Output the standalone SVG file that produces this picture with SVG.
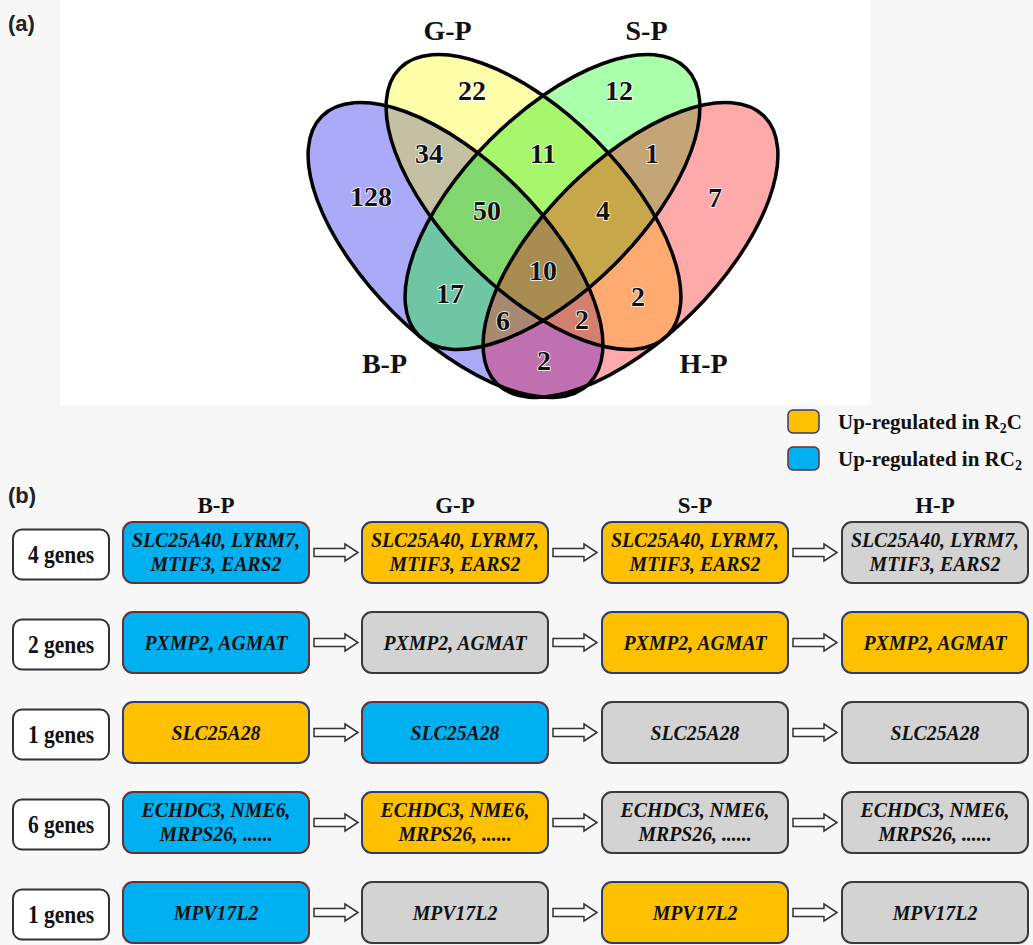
<svg xmlns="http://www.w3.org/2000/svg" xmlns:xlink="http://www.w3.org/1999/xlink" width="1033" height="945" viewBox="0 0 1033 945">
<style>
.vn{font-family:"Liberation Serif","Times New Roman",serif;font-weight:bold;font-size:28px;text-anchor:middle;fill:#111;stroke:#fff;stroke-width:1.5;paint-order:stroke}
.ol{fill:none;stroke:#000;stroke-width:3.5}
.hdr{font-family:"Liberation Serif","Times New Roman",serif;font-weight:bold;font-size:23px;text-anchor:middle;fill:#111}
.lbl{font-family:"Liberation Serif","Times New Roman",serif;font-weight:bold;font-size:25px;text-anchor:middle;fill:#111}
.gene{font-family:"Liberation Serif","Times New Roman",serif;font-weight:bold;font-style:italic;font-size:22px;text-anchor:middle;fill:#111}
.leg{font-family:"Liberation Serif","Times New Roman",serif;font-weight:bold;font-size:21px;fill:#111}
.bl{fill:#00b0f0;stroke:#6b2f2f;stroke-width:2}
.or{fill:#ffc000;stroke:#2b3a7a;stroke-width:2}
.gr{fill:#d3d3d3;stroke:#3a3a3a;stroke-width:2}
.lb{fill:#fff;stroke:#333;stroke-width:2}
.arr{fill:#fff;stroke:#333;stroke-width:1.5}
.pl{font-family:"Liberation Sans",Arial,sans-serif;font-weight:bold;font-size:22px;fill:#222}
</style>
<defs>
<ellipse id="eB" cx="455.5" cy="250" rx="189" ry="88" transform="rotate(45 455.5 250)"/>
<ellipse id="eG" cx="533.5" cy="202" rx="189" ry="88" transform="rotate(45 533.5 202)"/>
<ellipse id="eS" cx="552.5" cy="202" rx="189" ry="88" transform="rotate(-45 552.5 202)"/>
<ellipse id="eH" cx="630.5" cy="250" rx="189" ry="88" transform="rotate(-45 630.5 250)"/>
<clipPath id="cB"><use xlink:href="#eB"/></clipPath>
<clipPath id="cG"><use xlink:href="#eG"/></clipPath>
<clipPath id="cS"><use xlink:href="#eS"/></clipPath>
<clipPath id="cH"><use xlink:href="#eH"/></clipPath>
<path id="arrow" d="M0,-4 H31 V-8.5 L44,0 L31,8.5 V4 H0 Z"/>
</defs>
<rect x="0" y="0" width="1033" height="945" fill="#f7f7f7"/>
<rect x="60" y="0" width="810" height="405" fill="#ffffff"/>
<text class="pl" x="8" y="31">(a)</text>
<g id="venn">
<g id="venn-fills">
<use xlink:href="#eB" fill="#aaaaf8"/>
<use xlink:href="#eG" fill="#ffffaa"/>
<use xlink:href="#eS" fill="#aaffaa"/>
<use xlink:href="#eH" fill="#ffaaaa"/>
<g clip-path="url(#cB)"><use xlink:href="#eG" fill="#c4c0a2"/></g>
<g clip-path="url(#cB)"><use xlink:href="#eS" fill="#6ec6a4"/></g>
<g clip-path="url(#cB)"><use xlink:href="#eH" fill="#c070b0"/></g>
<g clip-path="url(#cG)"><use xlink:href="#eS" fill="#a6f76c"/></g>
<g clip-path="url(#cG)"><use xlink:href="#eH" fill="#ffaa70"/></g>
<g clip-path="url(#cS)"><use xlink:href="#eH" fill="#c4a676"/></g>
<g clip-path="url(#cB)"><g clip-path="url(#cG)"><use xlink:href="#eS" fill="#82d66e"/></g></g>
<g clip-path="url(#cB)"><g clip-path="url(#cG)"><use xlink:href="#eH" fill="#d48070"/></g></g>
<g clip-path="url(#cB)"><g clip-path="url(#cS)"><use xlink:href="#eH" fill="#a88870"/></g></g>
<g clip-path="url(#cG)"><g clip-path="url(#cS)"><use xlink:href="#eH" fill="#c6a84a"/></g></g>
<g clip-path="url(#cB)"><g clip-path="url(#cG)"><g clip-path="url(#cS)"><use xlink:href="#eH" fill="#a88c50"/></g></g></g>
</g>
<g id="venn-outlines">
<use xlink:href="#eB" class="ol"/>
<use xlink:href="#eG" class="ol"/>
<use xlink:href="#eS" class="ol"/>
<use xlink:href="#eH" class="ol"/>
</g>
<g id="venn-labels">
<text class="vn" x="447.5" y="40">G-P</text>
<text class="vn" x="646.5" y="40">S-P</text>
<text class="vn" x="384.5" y="373">B-P</text>
<text class="vn" x="703.5" y="373">H-P</text>
<text class="vn" x="472" y="100">22</text>
<text class="vn" x="619" y="100">12</text>
<text class="vn" x="429" y="163">34</text>
<text class="vn" x="543" y="163">11</text>
<text class="vn" x="652" y="163">1</text>
<text class="vn" x="371" y="206">128</text>
<text class="vn" x="487" y="220">50</text>
<text class="vn" x="603" y="220">4</text>
<text class="vn" x="715" y="207">7</text>
<text class="vn" x="543" y="280">10</text>
<text class="vn" x="450" y="303">17</text>
<text class="vn" x="638" y="306">2</text>
<text class="vn" x="503" y="330">6</text>
<text class="vn" x="582" y="329">2</text>
<text class="vn" x="544" y="370">2</text>
</g>
</g>
<g id="legend">
<rect x="788" y="410" width="31" height="23" rx="5" fill="#ffc000" stroke="#2b3a7a" stroke-width="1.5"/>
<rect x="788" y="447" width="31" height="23" rx="5" fill="#00b0f0" stroke="#6b2f2f" stroke-width="1.5"/>
<text class="leg" x="838" y="429">Up-regulated in R<tspan font-size="14" dy="4">2</tspan><tspan dy="-4">C</tspan></text>
<text class="leg" x="838" y="466">Up-regulated in RC<tspan font-size="14" dy="4">2</tspan></text>
</g>
<text class="pl" x="8" y="503">(b)</text>
<g id="headers">
<text class="hdr" x="216" y="513">B-P</text>
<text class="hdr" x="455" y="513">G-P</text>
<text class="hdr" x="695" y="513">S-P</text>
<text class="hdr" x="935" y="513">H-P</text>
</g>
<g id="connectors">
<use xlink:href="#arrow" class="arr" x="314" y="552.5"/>
<use xlink:href="#arrow" class="arr" x="553" y="552.5"/>
<use xlink:href="#arrow" class="arr" x="793" y="552.5"/>
<use xlink:href="#arrow" class="arr" x="314" y="642.5"/>
<use xlink:href="#arrow" class="arr" x="553" y="642.5"/>
<use xlink:href="#arrow" class="arr" x="793" y="642.5"/>
<use xlink:href="#arrow" class="arr" x="314" y="732.5"/>
<use xlink:href="#arrow" class="arr" x="553" y="732.5"/>
<use xlink:href="#arrow" class="arr" x="793" y="732.5"/>
<use xlink:href="#arrow" class="arr" x="314" y="822.5"/>
<use xlink:href="#arrow" class="arr" x="553" y="822.5"/>
<use xlink:href="#arrow" class="arr" x="793" y="822.5"/>
<use xlink:href="#arrow" class="arr" x="314" y="912.5"/>
<use xlink:href="#arrow" class="arr" x="553" y="912.5"/>
<use xlink:href="#arrow" class="arr" x="793" y="912.5"/>
</g>
<!-- Row 1 -->
<g id="r1-label"><rect class="lb" x="13" y="529.5" width="96" height="50" rx="9"/><text class="lbl" transform="translate(61 563) scale(0.86 1)">4 genes</text></g>
<g id="r1-bp"><rect class="bl" x="123" y="522" width="186" height="61" rx="10"/><text class="gene" transform="translate(216 547) scale(0.9 1)">SLC25A40, LYRM7,</text><text class="gene" transform="translate(216 571) scale(0.9 1)">MTIF3, EARS2</text></g>
<g id="r1-gp"><rect class="or" x="362" y="522" width="186" height="61" rx="10"/><text class="gene" transform="translate(455 547) scale(0.9 1)">SLC25A40, LYRM7,</text><text class="gene" transform="translate(455 571) scale(0.9 1)">MTIF3, EARS2</text></g>
<g id="r1-sp"><rect class="or" x="602" y="522" width="186" height="61" rx="10"/><text class="gene" transform="translate(695 547) scale(0.9 1)">SLC25A40, LYRM7,</text><text class="gene" transform="translate(695 571) scale(0.9 1)">MTIF3, EARS2</text></g>
<g id="r1-hp"><rect class="gr" x="842" y="522" width="186" height="61" rx="10"/><text class="gene" transform="translate(935 547) scale(0.9 1)">SLC25A40, LYRM7,</text><text class="gene" transform="translate(935 571) scale(0.9 1)">MTIF3, EARS2</text></g>
<!-- Row 2 -->
<g id="r2-label"><rect class="lb" x="13" y="619.5" width="96" height="50" rx="9"/><text class="lbl" transform="translate(61 653) scale(0.86 1)">2 genes</text></g>
<g id="r2-bp"><rect class="bl" x="123" y="612" width="186" height="61" rx="10"/><text class="gene" transform="translate(216 650) scale(0.9 1)">PXMP2, AGMAT</text></g>
<g id="r2-gp"><rect class="gr" x="362" y="612" width="186" height="61" rx="10"/><text class="gene" transform="translate(455 650) scale(0.9 1)">PXMP2, AGMAT</text></g>
<g id="r2-sp"><rect class="or" x="602" y="612" width="186" height="61" rx="10"/><text class="gene" transform="translate(695 650) scale(0.9 1)">PXMP2, AGMAT</text></g>
<g id="r2-hp"><rect class="or" x="842" y="612" width="186" height="61" rx="10"/><text class="gene" transform="translate(935 650) scale(0.9 1)">PXMP2, AGMAT</text></g>
<!-- Row 3 -->
<g id="r3-label"><rect class="lb" x="13" y="709.5" width="96" height="50" rx="9"/><text class="lbl" transform="translate(61 743) scale(0.86 1)">1 genes</text></g>
<g id="r3-bp"><rect class="or" x="123" y="702" width="186" height="61" rx="10"/><text class="gene" transform="translate(216 740) scale(0.9 1)">SLC25A28</text></g>
<g id="r3-gp"><rect class="bl" x="362" y="702" width="186" height="61" rx="10"/><text class="gene" transform="translate(455 740) scale(0.9 1)">SLC25A28</text></g>
<g id="r3-sp"><rect class="gr" x="602" y="702" width="186" height="61" rx="10"/><text class="gene" transform="translate(695 740) scale(0.9 1)">SLC25A28</text></g>
<g id="r3-hp"><rect class="gr" x="842" y="702" width="186" height="61" rx="10"/><text class="gene" transform="translate(935 740) scale(0.9 1)">SLC25A28</text></g>
<!-- Row 4 -->
<g id="r4-label"><rect class="lb" x="13" y="799.5" width="96" height="50" rx="9"/><text class="lbl" transform="translate(61 833) scale(0.86 1)">6 genes</text></g>
<g id="r4-bp"><rect class="bl" x="123" y="792" width="186" height="61" rx="10"/><text class="gene" transform="translate(216 817) scale(0.9 1)">ECHDC3, NME6,</text><text class="gene" transform="translate(216 841) scale(0.9 1)">MRPS26, ......</text></g>
<g id="r4-gp"><rect class="or" x="362" y="792" width="186" height="61" rx="10"/><text class="gene" transform="translate(455 817) scale(0.9 1)">ECHDC3, NME6,</text><text class="gene" transform="translate(455 841) scale(0.9 1)">MRPS26, ......</text></g>
<g id="r4-sp"><rect class="gr" x="602" y="792" width="186" height="61" rx="10"/><text class="gene" transform="translate(695 817) scale(0.9 1)">ECHDC3, NME6,</text><text class="gene" transform="translate(695 841) scale(0.9 1)">MRPS26, ......</text></g>
<g id="r4-hp"><rect class="gr" x="842" y="792" width="186" height="61" rx="10"/><text class="gene" transform="translate(935 817) scale(0.9 1)">ECHDC3, NME6,</text><text class="gene" transform="translate(935 841) scale(0.9 1)">MRPS26, ......</text></g>
<!-- Row 5 -->
<g id="r5-label"><rect class="lb" x="13" y="889.5" width="96" height="50" rx="9"/><text class="lbl" transform="translate(61 923) scale(0.86 1)">1 genes</text></g>
<g id="r5-bp"><rect class="bl" x="123" y="882" width="186" height="61" rx="10"/><text class="gene" transform="translate(216 920) scale(0.9 1)">MPV17L2</text></g>
<g id="r5-gp"><rect class="gr" x="362" y="882" width="186" height="61" rx="10"/><text class="gene" transform="translate(455 920) scale(0.9 1)">MPV17L2</text></g>
<g id="r5-sp"><rect class="or" x="602" y="882" width="186" height="61" rx="10"/><text class="gene" transform="translate(695 920) scale(0.9 1)">MPV17L2</text></g>
<g id="r5-hp"><rect class="gr" x="842" y="882" width="186" height="61" rx="10"/><text class="gene" transform="translate(935 920) scale(0.9 1)">MPV17L2</text></g>
</svg>
